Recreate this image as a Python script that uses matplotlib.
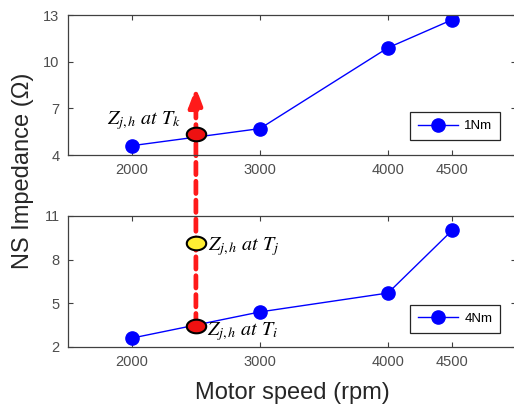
import numpy as np
import matplotlib

matplotlib.use("Agg")
import matplotlib.pyplot as plt
from matplotlib.patches import ConnectionPatch
from matplotlib.path import Path

speed = [2000, 3000, 4000, 4500]
imp_1nm = [4.6, 5.7, 10.9, 12.7]
imp_4nm = [2.6, 4.4, 5.7, 10.0]

# operating points at an intermediate speed
op_speed = 2500
z_tk = 5.35
z_tj = 9.15
z_ti = 3.45
arrow_top = 8.35

plt.rcParams["font.family"] = ["Liberation Sans", "DejaVu Sans"]
plt.rcParams["mathtext.fontset"] = "stix"

# slightly flattened circle for the annotation markers
t = np.linspace(0, 2 * np.pi, 60)
ellipse = Path(np.column_stack([np.cos(t), 0.7 * np.sin(t)]), closed=True)

fig = plt.figure(figsize=(5.14, 4.09), dpi=100)
ax1 = fig.add_axes([0.132, 0.621, 0.872, 0.342])
ax2 = fig.add_axes([0.132, 0.152, 0.872, 0.320])

for ax, ys, lab, yticks in [
    (ax1, imp_1nm, "1Nm", [4, 7, 10, 13]),
    (ax2, imp_4nm, "4Nm", [2, 5, 8, 11]),
]:
    ax.set_facecolor("none")
    ax.plot(speed, ys, color="#0000ff", lw=1.0, marker="o", ms=9.5, label=lab)
    ax.set_xlim(1500, 5000)
    ax.set_ylim(yticks[0], yticks[-1])
    ax.set_xticks(speed)
    ax.set_yticks(yticks)
    ax.tick_params(direction="in", top=True, right=True, length=3.5, width=0.8,
                   labelsize=10.5, labelcolor="#4d4d4d", color="#404040", pad=6)
    for sp in ax.spines.values():
        sp.set_color("#404040")
        sp.set_linewidth(0.9)
    leg = ax.legend(loc="lower right", bbox_to_anchor=(0.965, 0.107), borderaxespad=0,
                    fontsize=9.5, handlelength=3.0, handletextpad=0.5, fancybox=False,
                    framealpha=1, edgecolor="#262626", borderpad=0.6)
    leg.get_frame().set_linewidth(0.9)

# dashed arrow from bottom operating point up into the top panel
con = ConnectionPatch(xyA=(op_speed, z_ti), coordsA=ax2.transData,
                      xyB=(op_speed, arrow_top), coordsB=ax1.transData,
                      arrowstyle="-|>,head_length=0.8,head_width=0.3", color="#ff1a1a",
                      lw=3.4, linestyle=(0, (2.6, 1.4)), mutation_scale=14)
con.set_zorder(-1)
fig.add_artist(con)

mk = dict(marker=ellipse, ms=14, mec="black", mew=1.5, zorder=5, clip_on=False)
ax1.plot([op_speed], [z_tk], mfc="#ee1111", **mk)
ax2.plot([op_speed], [z_tj], mfc="#ffee33", **mk)
ax2.plot([op_speed], [z_ti], mfc="#ee1111", **mk)

tk = dict(fontsize=14.5, textcoords="offset points")
ax1.annotate(r"$Z_{j,h}\ at\ T_k$", (op_speed, z_tk), xytext=(-11, 10), ha="right", va="center", **tk)
ax2.annotate(r"$Z_{j,h}\ at\ T_j$", (op_speed, z_tj), xytext=(9, -3), ha="left", va="center", **tk)
ax2.annotate(r"$Z_{j,h}\ at\ T_i$", (op_speed, z_ti), xytext=(8, -4), ha="left", va="center", **tk)

fig.text(0.045, 0.582, "NS Impedance (\u03a9)", rotation=90, ha="center", va="center",
         fontsize=17, color="#262626")
fig.text(0.568, 0.04, "Motor speed (rpm)", ha="center", va="center", fontsize=17, color="#262626")

fig.savefig("out.png", dpi=100)
